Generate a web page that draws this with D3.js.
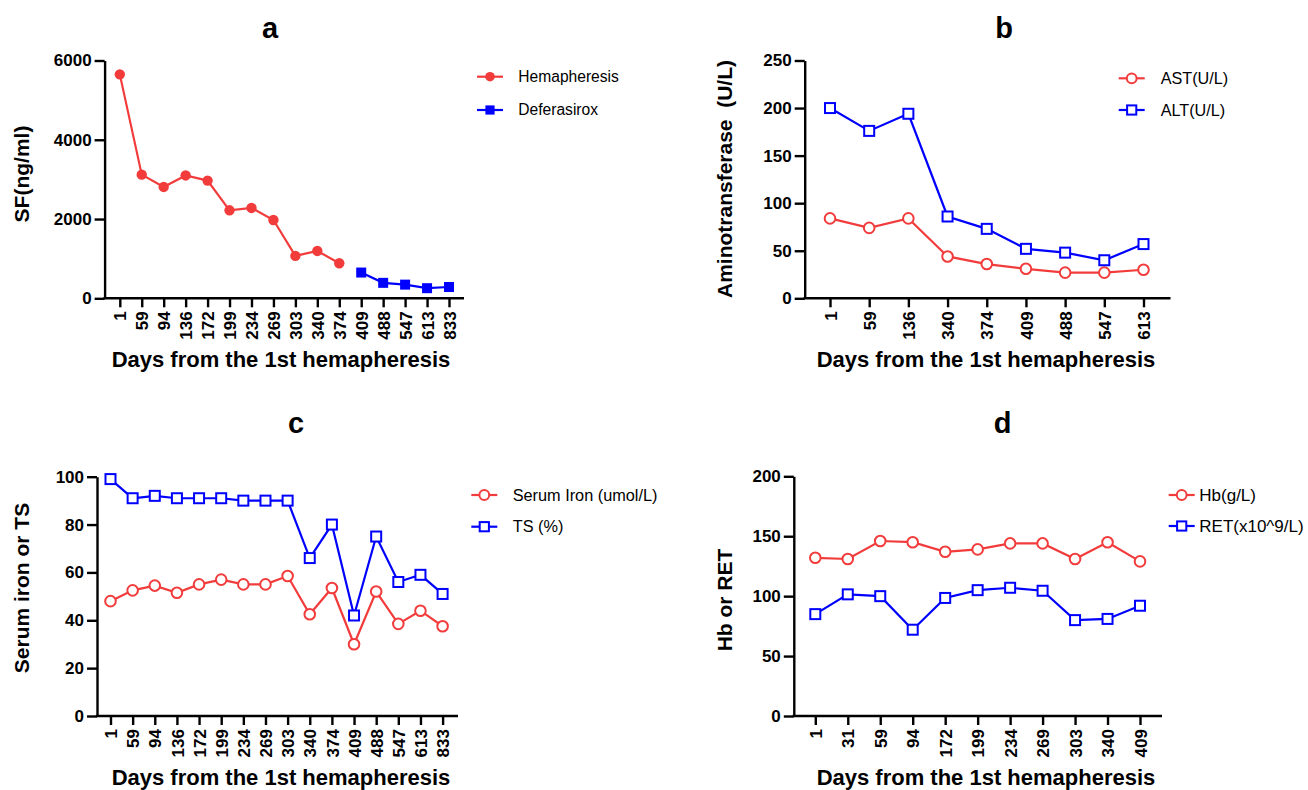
<!DOCTYPE html>
<html>
<head>
<meta charset="utf-8">
<script src="https://cdn.jsdelivr.net/npm/d3@7"></script>
<style>
  body { margin: 0; background: #fff; }
  svg { display: block; }
  text { font-family: "Liberation Sans", Arial, sans-serif; fill: #000; }
</style>
</head>
<body>
<svg id="chart" width="1308" height="790"></svg>
<script>
var red = '#f23c3c';
var blue = '#0000ff';

// panel a - serum ferritin
var aDays = ['1','59','94','136','172','199','234','269','303','340','374','409','488','547','613','833'];
var aHemaDays = aDays.slice(0, 11);
var aHema = [5650, 3120, 2810, 3100, 2970, 2220, 2280, 1975, 1070, 1195, 885];
var aDeferDays = aDays.slice(11);
var aDefer = [650, 390, 345, 255, 285];
var aTicks = [0, 2000, 4000, 6000];

// panel b - aminotransferase
var bDays = ['1','59','136','340','374','409','488','547','613'];
var bAST = [84, 74, 84, 44, 36, 31, 27, 27, 30];
var bALT = [200, 176, 194, 86, 73, 52, 48, 40, 57];
var bTicks = [0, 50, 100, 150, 200, 250];

// panel c - serum iron / TS
var cDays = ['1','59','94','136','172','199','234','269','303','340','374','409','488','547','613','833'];
var cIron = [48, 52.5, 54.5, 51.5, 55, 57, 55, 55, 58.5, 42.5, 53.5, 30, 52, 38.5, 44, 37.5];
var cTS = [99, 91, 92, 91, 91, 91, 90, 90, 90, 66, 80, 42, 75, 56, 59, 51];
var cTicks = [0, 20, 40, 60, 80, 100];

// panel d - Hb / RET
var dDays = ['1','31','59','94','172','199','234','269','303','340','409'];
var dHb = [132, 131, 146, 145, 137, 139, 144, 144, 131, 145, 129];
var dRET = [85, 101.5, 100, 72, 98.5, 105, 107, 104.5, 80, 81, 92];
var dTicks = [0, 50, 100, 150, 200];

var xTitle = 'Days from the 1st hemapheresis';

var svg = d3.select('#chart');

function zip(days, vals) {
  return days.map(function(d, i) { return {day: d, v: vals[i]}; });
}

function drawMarker(sel, shape, color, filled, r) {
  if (shape === 'circle') {
    sel.append('circle')
      .attr('r', r)
      .attr('fill', filled ? color : '#fff')
      .attr('stroke', color)
      .attr('stroke-width', filled ? 0 : 2);
  } else {
    sel.append('rect')
      .attr('x', -r).attr('y', -r)
      .attr('width', 2 * r).attr('height', 2 * r)
      .attr('fill', filled ? color : '#fff')
      .attr('stroke', color)
      .attr('stroke-width', filled ? 0 : 2);
  }
}

function styleTicks(sel) {
  sel.attr('fill', '#000')
    .style('font-size', '17px')
    .style('font-weight', 'bold')
    .style('font-family', '"Liberation Sans", Arial, sans-serif');
}

function panel(p) {
  var g = svg.append('g');

  var x = d3.scalePoint().domain(p.days).range([p.x0, p.x1]);
  var y = d3.scaleLinear().domain([0, p.yMax]).range([p.bottom, p.top]);

  // y axis
  var ya = g.append('g')
    .attr('transform', 'translate(' + p.left + ',0)')
    .call(d3.axisLeft(y).tickValues(p.yTicks).tickSize(10).tickPadding(3).tickSizeOuter(0).tickFormat(d3.format('d')));
  ya.select('.domain').attr('stroke-width', 2.4);
  ya.selectAll('.tick line').attr('stroke-width', 2.4);
  styleTicks(ya.selectAll('.tick text'));

  // x axis
  var xa = g.append('g')
    .attr('transform', 'translate(0,' + p.bottom + ')')
    .call(d3.axisBottom(x).tickSize(9).tickSizeOuter(0));
  xa.select('.domain').remove();
  xa.append('line')
    .attr('x1', p.left - 1.2).attr('x2', p.right)
    .attr('stroke', '#000').attr('stroke-width', 2.4);
  xa.selectAll('.tick line').attr('stroke-width', 2.4);
  styleTicks(xa.selectAll('.tick text')
    .attr('transform', 'rotate(-90)')
    .attr('x', -13).attr('y', 0).attr('dy', '0.36em')
    .style('text-anchor', 'end'));

  // series
  var line = d3.line().x(function(d) { return x(d.day); }).y(function(d) { return y(d.v); });
  p.series.forEach(function(s) {
    var pts = zip(s.days, s.values);
    g.append('path')
      .datum(pts)
      .attr('d', line)
      .attr('fill', 'none')
      .attr('stroke', s.color)
      .attr('stroke-width', 2.2);
    g.selectAll(null)
      .data(pts)
      .enter()
      .append('g')
        .attr('transform', function(d) { return 'translate(' + x(d.day) + ',' + y(d.v) + ')'; })
        .each(function() { drawMarker(d3.select(this), s.shape, s.color, s.filled, s.r); });
  });

  // legend
  p.series.forEach(function(s, i) {
    var ly = p.legY[i];
    var lg = g.append('g').attr('transform', 'translate(' + p.legX + ',' + ly + ')');
    lg.append('line')
      .attr('x1', -13).attr('x2', 13)
      .attr('stroke', s.color).attr('stroke-width', 2.2);
    drawMarker(lg, s.shape, s.color, s.filled, s.r - 0.4);
    lg.append('text')
      .attr('x', p.legTextX - p.legX)
      .attr('dy', '0.35em')
      .style('font-size', p.legFont + 'px')
      .text(s.name);
  });

  // panel letter
  g.append('text')
    .attr('x', p.titleX).attr('y', p.titleY)
    .attr('text-anchor', 'middle')
    .style('font-size', '29px')
    .style('font-weight', 'bold')
    .text(p.letter);

  // y title
  g.append('text')
    .attr('transform', 'translate(' + p.yTitleX + ',' + p.yTitleY + ') rotate(-90)')
    .attr('text-anchor', 'middle')
    .attr('dy', '0.35em')
    .style('font-size', '21px')
    .style('font-weight', 'bold')
    .style('white-space', 'pre')
    .text(p.yTitle);

  // x title
  g.append('text')
    .attr('x', p.xTitleX).attr('y', p.xTitleY)
    .attr('text-anchor', 'middle')
    .style('font-size', '22px')
    .style('font-weight', 'bold')
    .text(xTitle);
}

panel({
  letter: 'a', titleX: 270, titleY: 38,
  days: aDays, yMax: 6000, yTicks: aTicks,
  left: 104.6, right: 464, x0: 119.8, x1: 449, top: 60.5, bottom: 298.3,
  yTitle: 'SF(ng/ml)', yTitleX: 22, yTitleY: 174,
  xTitleX: 281, xTitleY: 367,
  legX: 490, legY: [76.7, 110], legTextX: 518.3, legFont: 15.6,
  series: [
    {name: 'Hemapheresis', days: aHemaDays, values: aHema, color: red, shape: 'circle', filled: true, r: 5.2},
    {name: 'Deferasirox', days: aDeferDays, values: aDefer, color: blue, shape: 'square', filled: true, r: 5}
  ]
});

panel({
  letter: 'b', titleX: 1004, titleY: 38,
  days: bDays, yMax: 250, yTicks: bTicks,
  left: 804.7, right: 1170.5, x0: 830, x1: 1143.5, top: 60.5, bottom: 298.3,
  yTitle: 'Aminotransferase  (U/L)', yTitleX: 725, yTitleY: 179,
  xTitleX: 986, xTitleY: 367,
  legX: 1131.7, legY: [78.3, 110], legTextX: 1160.7, legFont: 16.2,
  series: [
    {name: 'AST(U/L)', days: bDays, values: bAST, color: red, shape: 'circle', filled: false, r: 5.3},
    {name: 'ALT(U/L)', days: bDays, values: bALT, color: blue, shape: 'square', filled: false, r: 5}
  ]
});

panel({
  letter: 'c', titleX: 296, titleY: 433,
  days: cDays, yMax: 100, yTicks: cTicks,
  left: 97, right: 458, x0: 110.5, x1: 442.6, top: 476.7, bottom: 716,
  yTitle: 'Serum iron or TS', yTitleX: 22, yTitleY: 588,
  xTitleX: 281, xTitleY: 785,
  legX: 484.3, legY: [495, 526.7], legTextX: 512.7, legFont: 16.3,
  series: [
    {name: 'Serum Iron (umol/L)', days: cDays, values: cIron, color: red, shape: 'circle', filled: false, r: 5.3},
    {name: 'TS (%)', days: cDays, values: cTS, color: blue, shape: 'square', filled: false, r: 5}
  ]
});

panel({
  letter: 'd', titleX: 1002.6, titleY: 433,
  days: dDays, yMax: 200, yTicks: dTicks,
  left: 793.8, right: 1162, x0: 815.3, x1: 1140, top: 476.3, bottom: 716,
  yTitle: 'Hb or RET', yTitleX: 725, yTitleY: 600,
  xTitleX: 986, xTitleY: 785,
  legX: 1181.7, legY: [495, 526], legTextX: 1199.3, legFont: 17,
  series: [
    {name: 'Hb(g/L)', days: dDays, values: dHb, color: red, shape: 'circle', filled: false, r: 5.3},
    {name: 'RET(x10^9/L)', days: dDays, values: dRET, color: blue, shape: 'square', filled: false, r: 5}
  ]
});
</script>
</body>
</html>
